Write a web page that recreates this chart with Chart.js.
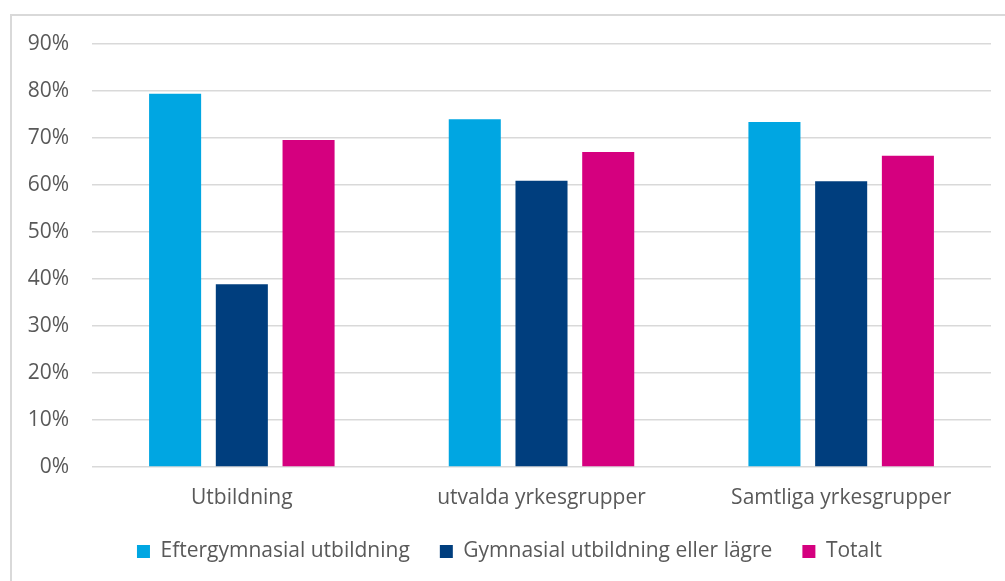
<!DOCTYPE html>
<html>
<head>
<meta charset="utf-8">
<script src="https://cdn.jsdelivr.net/npm/chart.js@4/dist/chart.umd.min.js"></script>
<style>
  html, body { margin: 0; padding: 0; background: #fff; overflow: hidden; }
  #frame { position: absolute; left: 10px; top: 14px; width: 1010px; height: 580px;
           border-left: 2px solid #d9d9d9; border-top: 2px solid #d9d9d9; }
  #wrap { position: absolute; left: 0; top: 0; width: 1005px; height: 581px; }
</style>
</head>
<body>
<div id="frame"></div>
<div id="wrap"><canvas id="chart"></canvas></div>
<script>
const categories = ['Utbildning', 'utvalda yrkesgrupper', 'Samtliga yrkesgrupper'];
const eftergymnasial = [79.4, 74.0, 73.4];
const gymnasial = [38.9, 60.9, 60.8];
const totalt = [69.6, 67.0, 66.2];
const seriesNames = ['Eftergymnasial utbildning', 'Gymnasial utbildning eller lägre', 'Totalt'];
const yTicks = [0, 10, 20, 30, 40, 50, 60, 70, 80, 90];

document.addEventListener('DOMContentLoaded', function() {
    const textColor = '#595959';
    const fontFamily = '"Open Sans", sans-serif';
    const ctx = document.getElementById('chart').getContext('2d');

    // legend row sits a little right of where chart.js centres it
    const legendNudge = {
        id: 'legendNudge',
        afterLayout: function(chart) {
            chart.legend.left += 14;
            chart.legend.right += 14;
        }
    };

    const chart = new Chart(ctx, {
        type: 'bar',
        data: {
            labels: categories,
            datasets: [{
                label: seriesNames[0],
                data: eftergymnasial,
                backgroundColor: '#00A6E2'
            }, {
                label: seriesNames[1],
                data: gymnasial,
                backgroundColor: '#003E7E'
            }, {
                label: seriesNames[2],
                data: totalt,
                backgroundColor: '#D5007F'
            }]
        },
        options: {
            responsive: true,
            maintainAspectRatio: false,
            animation: false,
            categoryPercentage: 0.668,
            barPercentage: 0.78,
            layout: {
                padding: { left: 0, right: 14, top: 44, bottom: 9 }
            },
            plugins: {
                tooltip: { enabled: false },
                legend: {
                    position: 'bottom',
                    labels: {
                        color: textColor,
                        font: { family: fontFamily, size: 21 },
                        boxWidth: 13,
                        boxHeight: 13,
                        padding: 30
                    }
                }
            },
            scales: {
                x: {
                    grid: { display: false, drawTicks: false },
                    border: { display: false },
                    ticks: {
                        color: textColor,
                        font: { family: fontFamily, size: 21 },
                        padding: 18
                    },
                    afterFit: function(scale) { scale.height = 44; }
                },
                y: {
                    min: 0,
                    max: 90,
                    afterBuildTicks: function(scale) {
                        scale.ticks = yTicks.map(v => ({ value: v }));
                    },
                    grid: {
                        color: '#d9d9d9',
                        lineWidth: 1.5,
                        drawTicks: false
                    },
                    border: { display: false },
                    ticks: {
                        color: textColor,
                        font: { family: fontFamily, size: 21 },
                        padding: 23,
                        callback: function(value) { return value + '%'; }
                    },
                    afterFit: function(scale) { scale.width = 92; }
                }
            }
        },
        plugins: [legendNudge]
    });
});
</script>
</body>
</html>
